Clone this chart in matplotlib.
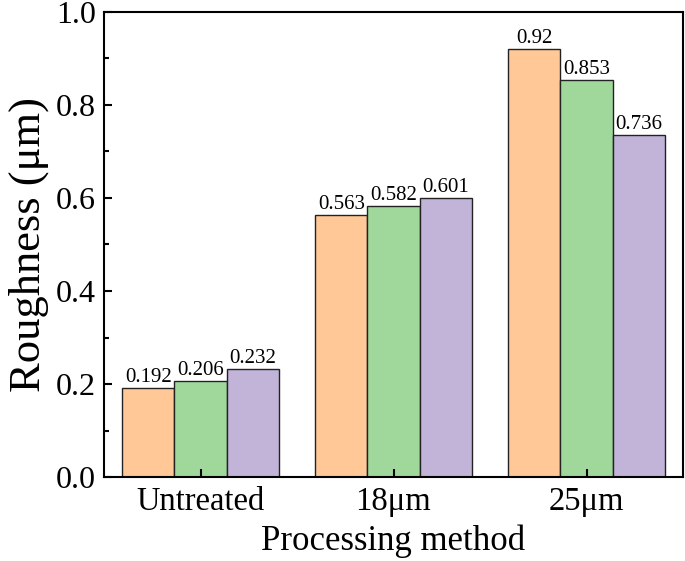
import matplotlib
matplotlib.use("Agg")
import matplotlib.pyplot as plt
import numpy as np

categories = ["Untreated", "18μm", "25μm"]
series1 = [0.192, 0.563, 0.92]
series2 = [0.206, 0.582, 0.853]
series3 = [0.232, 0.601, 0.736]
labels1 = ["0.192", "0.563", "0.92"]
labels2 = ["0.206", "0.582", "0.853"]
labels3 = ["0.232", "0.601", "0.736"]
colors = ["#FFC896", "#A0D89C", "#C2B3D9"]

plt.rcParams['font.family'] = ['Liberation Serif', 'DejaVu Serif']

fig = plt.figure(figsize=(6.85, 5.61), dpi=100)
ax = fig.add_axes([104/685, 1-477/561, 579/685, 465/561])

x = np.arange(len(categories))
w = 0.27
for vals, labs, c, off in [(series1, labels1, colors[0], -w), (series2, labels2, colors[1], 0), (series3, labels3, colors[2], w)]:
    bars = ax.bar(x + off, vals, w, color=c, edgecolor='#222222', linewidth=1.0)
    for b, l in zip(bars, labs):
        ax.text(b.get_x() + b.get_width()/2, b.get_height() + 0.002, l,
                ha='center', va='bottom', fontsize=15)

ax.set_xlim(-0.5, 2.5)
ax.set_ylim(0, 1.0)
ax.set_xticks(x)
ax.set_xticklabels(categories, fontsize=23.5)
ax.set_yticks(np.arange(0, 1.01, 0.2))
ax.set_yticklabels([f"{v:.1f}" for v in np.arange(0, 1.01, 0.2)], fontsize=23)
ax.set_yticks(np.arange(0.1, 1.0, 0.2), minor=True)
ax.tick_params(axis='both', which='major', direction='in', length=6, width=1.5, pad=6)
ax.tick_params(axis='x', which='major', pad=7)
ax.tick_params(axis='y', which='minor', direction='in', length=3.5, width=1.5)
for s in ax.spines.values():
    s.set_linewidth(1.5)
ax.set_xlabel("Processing method", fontsize=25, labelpad=5)
ax.set_ylabel("Roughness (μm)", fontsize=32, labelpad=5)

fig.savefig("out.png", dpi=100)
